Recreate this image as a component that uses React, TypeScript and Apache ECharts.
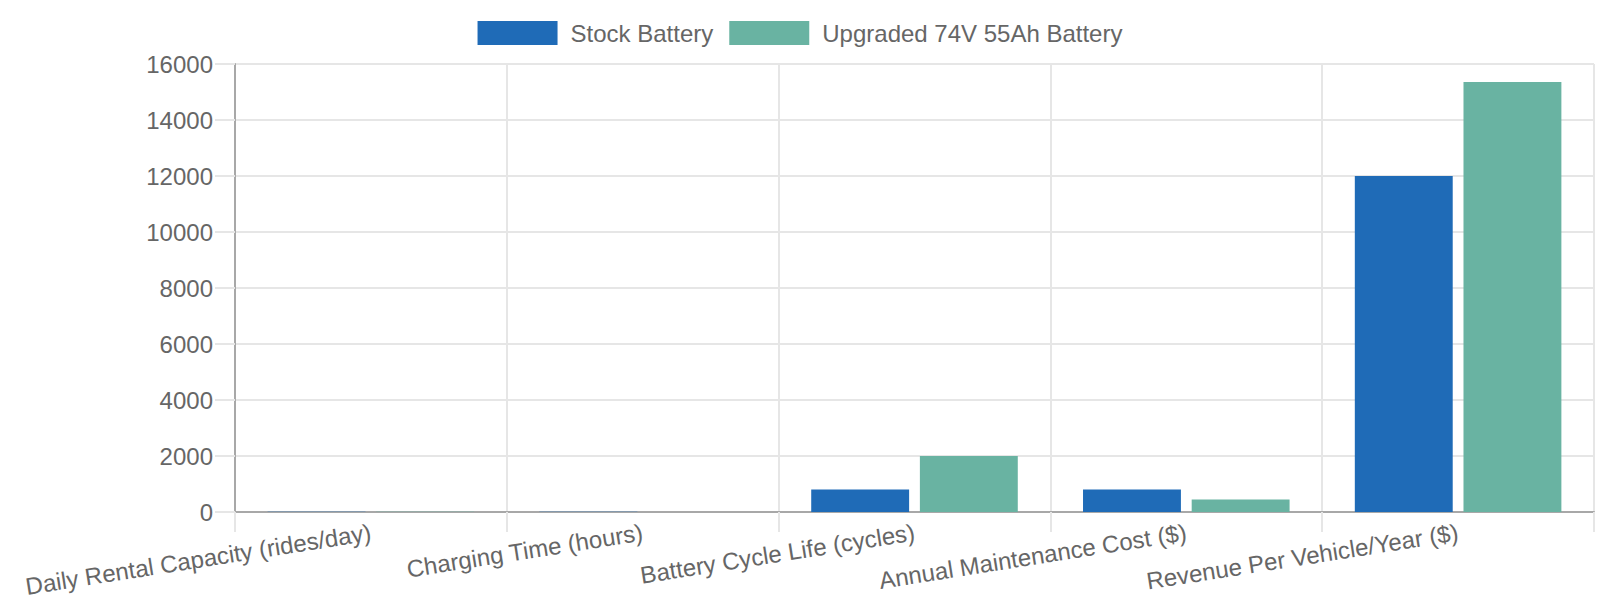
import React, { useEffect, useRef } from "react";
import * as echarts from "echarts";

const categories = [
  "Daily Rental Capacity (rides/day)",
  "Charging Time (hours)",
  "Battery Cycle Life (cycles)",
  "Annual Maintenance Cost ($)",
  "Revenue Per Vehicle/Year ($)",
];
const stockBattery = [6, 8, 800, 800, 12000];
const upgradedBattery = [10, 4, 2000, 450, 15360];
const seriesNames = ["Stock Battery", "Upgraded 74V 55Ah Battery"];

const FONT = "'Liberation Sans', Arial, Helvetica, sans-serif";
const TEXT = "#666666";
const GRID = "#e6e6e6";
const AXIS = "#a8a8a8";

export default function App() {
  const ref = useRef<HTMLDivElement>(null);
  useEffect(() => {
    if (!ref.current) return;
    const chart = echarts.init(ref.current, undefined, { renderer: "svg" });
    chart.setOption({
      animation: false,
      backgroundColor: "#ffffff",
      textStyle: { fontFamily: FONT },
      legend: {
        top: 16,
        left: "center",
        icon: "rect",
        itemWidth: 80,
        itemHeight: 24,
        itemGap: 16,
        itemStyle: { borderWidth: 0 },
        textStyle: { fontSize: 24, color: TEXT, fontFamily: FONT, padding: [0, 0, 0, 8] },
        data: seriesNames,
      },
      grid: { left: 235, right: 6, top: 64, bottom: 88, containLabel: false },
      xAxis: {
        type: "category",
        data: categories,
        boundaryGap: true,
        axisLine: { show: true, lineStyle: { color: AXIS, width: 2 } },
        axisTick: { show: true, length: 20, lineStyle: { color: GRID, width: 2 } },
        splitLine: { show: true, lineStyle: { color: GRID, width: 2 } },
        axisLabel: {
          interval: 0,
          rotate: 9,
          margin: 20,
          fontSize: 24,
          color: TEXT,
          fontFamily: FONT,
        },
      },
      yAxis: {
        type: "value",
        min: 0,
        max: 16000,
        interval: 2000,
        axisLine: { show: true, lineStyle: { color: AXIS, width: 2 } },
        axisTick: { show: true, length: 20, lineStyle: { color: GRID, width: 2 } },
        splitLine: { show: true, lineStyle: { color: GRID, width: 2 } },
        axisLabel: {
          margin: 22,
          fontSize: 24,
          color: TEXT,
          fontFamily: FONT,
          formatter: (v: number) => String(v),
        },
      },
      series: [
        {
          name: seriesNames[0],
          type: "bar",
          data: stockBattery,
          barGap: "11%",
          barCategoryGap: "24%",
          itemStyle: { color: "#1f6bb7" },
        },
        {
          name: seriesNames[1],
          type: "bar",
          data: upgradedBattery,
          barGap: "11%",
          barCategoryGap: "24%",
          itemStyle: { color: "#69b3a2" },
        },
      ],
    });
    return () => chart.dispose();
  }, []);
  return (
    <div
      ref={ref}
      style={{ position: "fixed", left: 0, top: 0, width: 1600, height: 600, background: "#fff" }}
    />
  );
}
